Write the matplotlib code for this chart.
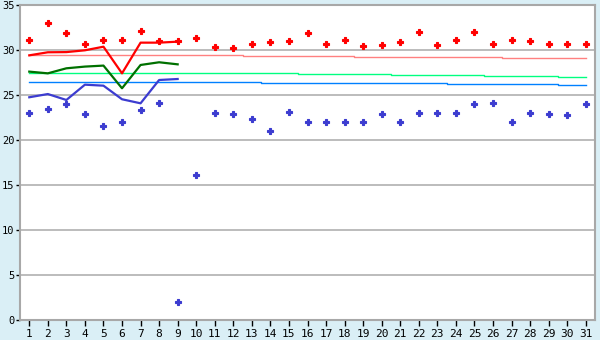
import matplotlib
matplotlib.use('Agg')
import matplotlib.pyplot as plt
import numpy as np

days = list(range(1, 32))

# daily points
red_pts = [31.2, 33.0, 31.9, 30.7, 31.2, 31.2, 32.1, 31.0, 31.0, 31.4,
           30.4, 30.3, 30.7, 30.9, 31.0, 31.9, 30.7, 31.2, 30.5, 30.6,
           30.9, 32.0, 30.6, 31.2, 32.0, 30.7, 31.2, 31.0, 30.7, 30.7, 30.7]
blue_pts = [23.0, 23.5, 24.0, 22.9, 21.6, 22.0, 23.4, 24.2, 2.0, 16.2,
            23.0, 22.9, 22.4, 21.0, 23.2, 22.0, 22.0, 22.0, 22.0, 22.9,
            22.0, 23.0, 23.0, 23.0, 24.0, 24.1, 22.0, 23.0, 22.9, 22.8, 24.0]

# thick lines, days 1-9
line_days = list(range(1, 10))
red_line = [29.44, 29.78, 29.8, 30.0, 30.4, 27.44, 30.85, 30.85, 30.96]
green_line = [27.63, 27.44, 28.0, 28.19, 28.3, 25.78, 28.37, 28.67, 28.44]
blue_line = [24.78, 25.14, 24.48, 26.18, 26.07, 24.56, 24.11, 26.7, 26.81]

# thin step lines over the whole month
salmon_ref = [29.44] * 12 + [29.33] * 6 + [29.22] * 8 + [29.11] * 5
green_ref = [27.48] * 15 + [27.37] * 5 + [27.26] * 5 + [27.14] * 4 + [27.03] * 2
blue_ref = [26.48] * 13 + [26.37] * 10 + [26.26] * 6 + [26.14] * 2

bg = '#daeff6'
fig = plt.figure(figsize=(6, 3.4), dpi=100, facecolor=bg)
ax = fig.add_axes([20 / 600, (340 - 320.3) / 340, 575 / 600, 315 / 340])
ax.set_facecolor('white')

ax.set_xlim(0.5, 31.5)
ax.set_ylim(0, 35)
ax.set_yticks(range(0, 36, 5))
ax.set_xticks(days)
ax.grid(axis='y', color='#b0b0b0', linewidth=1.2)
ax.set_axisbelow(True)

ax.step(days, salmon_ref, where='mid', color='#ff8080', lw=1)
ax.step(days, green_ref, where='mid', color='#00ff80', lw=1)
ax.step(days, blue_ref, where='mid', color='#0080ff', lw=1)

ax.plot(line_days, red_line, color='#ff0000', lw=1.6)
ax.plot(line_days, green_line, color='#007000', lw=1.6)
ax.plot(line_days, blue_line, color='#3c3cd0', lw=1.6)

ax.plot(days, red_pts, 'P', color='#ff0000', ms=4.2, mew=0.8, ls='none')
ax.plot(days, blue_pts, 'P', color='#3c3cd0', ms=4.2, mew=0.8, ls='none')

for s in ax.spines.values():
    s.set_color('#a8a8a8')
    s.set_linewidth(1.5)

ax.tick_params(axis='x', colors='black', labelsize=8, length=4, width=1, pad=2)
ax.tick_params(axis='y', colors='black', labelsize=7.5, length=3, width=1, pad=1)
for lab in ax.get_xticklabels() + ax.get_yticklabels():
    lab.set_family('DejaVu Sans Mono')

fig.savefig('out.png', dpi=100, facecolor=bg)
